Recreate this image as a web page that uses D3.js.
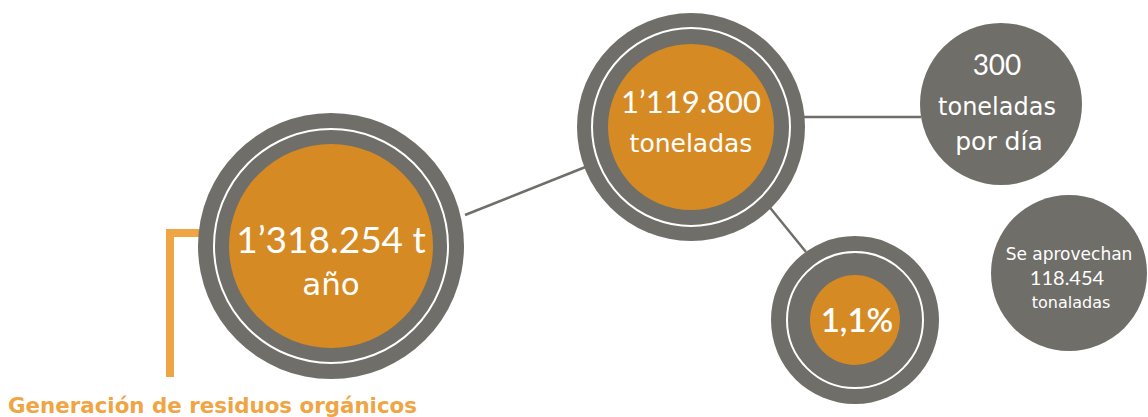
<!DOCTYPE html>
<html><head><meta charset="utf-8">
<script src="https://cdn.jsdelivr.net/npm/d3@7"></script>
<style>html,body{margin:0;padding:0;background:#fff;overflow:hidden}svg{display:block}</style>
</head><body>
<svg id="c" width="1148" height="417"></svg>
<script>
// ---- data ----
const title = "Generación de residuos orgánicos";
const nodeIds = ["total", "dispuesto", "pct", "diario", "aprovecha"];
const nodeLines = [
  ["1’318.254 t", "año"],
  ["1’119.800", "toneladas"],
  ["1,1%"],
  ["300", "toneladas", "por día"],
  ["Se aprovechan", "118.454", "tonaladas"]
];
const links = [["total","dispuesto"],["dispuesto","diario"],["dispuesto","pct"]];

// ---- layout ----
const GRAY = "#6f6e68", ORANGE = "#d58a24", BRACKET = "#efa544";
const NUM = "'Lato','Noto Sans',sans-serif", WORD = "'DejaVu Sans',sans-serif";
const layout = {
  total:     {cx:331, cy:246, r:133, ring:117, inner:102, sizes:[37,31], base:[253,295], fonts:[NUM,WORD], ws:[400,400], dx:[0,0]},
  dispuesto: {cx:691, cy:127, r:114, ring:99,  inner:83,  sizes:[31,25], base:[113,152], fonts:[NUM,WORD], ws:[400,400], dx:[0,0]},
  pct:       {cx:855, cy:320, r:84,  ring:68,  inner:45,  sizes:[33],    base:[332],     fonts:[NUM], ws:[600], dx:[2]},
  diario:    {cx:1001,cy:104, r:81,  sizes:[28,24,25], base:[75,115,150], fonts:[NUM,WORD,WORD], ws:[400,400,400], dx:[-4,-4,-2]},
  aprovecha: {cx:1069,cy:273, r:78,  sizes:[17,20,16], base:[260,285,308], fonts:[WORD,NUM,WORD], ws:[400,400,400], dx:[0,-2,2]}
};
const linkPts = {
  "total-dispuesto":[[465,215],[588,166]],
  "dispuesto-diario":[[804,117],[921,117]],
  "dispuesto-pct":[[767,204],[806,252]]
};

const svg = d3.select("#c");
const nodes = nodeIds.map((id,i)=>Object.assign({id, lines:nodeLines[i]}, layout[id]));

// links
svg.append("g").selectAll("line").data(links).join("line")
  .attr("x1", d=>linkPts[d.join("-")][0][0]).attr("y1", d=>linkPts[d.join("-")][0][1])
  .attr("x2", d=>linkPts[d.join("-")][1][0]).attr("y2", d=>linkPts[d.join("-")][1][1])
  .attr("stroke", GRAY).attr("stroke-width", 2.5);

// bracket
const br = svg.append("g").attr("fill", BRACKET);
br.append("rect").attr("x",166).attr("y",229).attr("width",8).attr("height",148);
br.append("rect").attr("x",166).attr("y",229).attr("width",33).attr("height",8);

// circles
const g = svg.append("g").selectAll("g").data(nodes).join("g");
g.append("circle").attr("cx",d=>d.cx).attr("cy",d=>d.cy).attr("r",d=>d.r).attr("fill",GRAY);
g.filter(d=>d.ring).append("circle").attr("cx",d=>d.cx).attr("cy",d=>d.cy).attr("r",d=>d.ring)
  .attr("fill","none").attr("stroke","#fff").attr("stroke-width",2);
g.filter(d=>d.inner).append("circle").attr("cx",d=>d.cx).attr("cy",d=>d.cy).attr("r",d=>d.inner).attr("fill",ORANGE);

g.each(function(d){
  d3.select(this).selectAll("text").data(d.lines).join("text")
    .attr("x", (t,i)=>d.cx + d.dx[i]).attr("y", (t,i)=>d.base[i])
    .attr("text-anchor","middle").attr("fill","#fff")
    .attr("font-family",(t,i)=>d.fonts[i])
    .attr("font-size",(t,i)=>d.sizes[i]).attr("font-weight",(t,i)=>d.ws[i])
    .text(t=>t);
});

// title
svg.append("text").attr("x",8).attr("y",413)
  .attr("fill", BRACKET).attr("font-family",WORD)
  .attr("font-weight",700).attr("font-size",22)
  .attr("textLength",409).attr("lengthAdjust","spacingAndGlyphs").text(title);
</script>
</body></html>
